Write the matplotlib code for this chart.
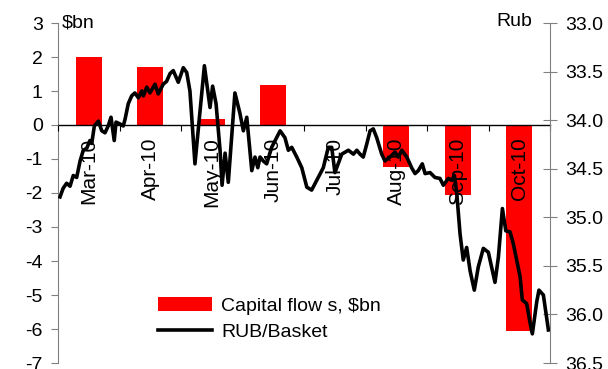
import numpy as np
import matplotlib
matplotlib.use("Agg")
import matplotlib.pyplot as plt
from matplotlib.patches import Patch
from matplotlib.lines import Line2D

plt.rcParams['font.family'] = ['Liberation Sans', 'DejaVu Sans']
plt.rcParams['axes.unicode_minus'] = False

# monthly capital flows, $bn
months = ["Mar-10", "Apr-10", "May-10", "Jun-10", "Jul-10", "Aug-10", "Sep-10", "Oct-10"]
flows = [2.0, 1.7, 0.18, 1.18, 0.0, -1.24, -2.06, -6.05]

# RUB/Basket, days since 1 Mar 2010
rub_day = [1.0, 2.6, 4.3, 6.0, 7.6, 9.3, 11.0, 12.6, 14.3, 15.9, 16.8, 18.1, 20.1, 21.8,
           23.4, 25.0, 26.4, 28.0, 28.9, 30.9, 32.5, 33.4, 35.0, 36.7, 38.3, 40.0, 41.7,
           42.5, 44.2, 45.8, 48.3, 49.9, 52.4, 54.1, 55.8, 57.4, 59.9, 62.4, 64.1, 65.7,
           68.2, 72.9, 75.7, 77.0, 78.7, 80.7, 81.7, 83.2, 84.8, 88.1, 90.6, 92.3, 94.0,
           96.5, 98.1, 99.5, 100.6, 102.2, 103.9, 106.4, 108.9, 110.6, 113.0, 114.7,
           116.4, 118.9, 121.4, 123.9, 126.3, 129.6, 132.1, 134.6, 136.3, 137.9, 141.3,
           144.6, 147.1, 148.8, 150.4, 152.0, 153.7, 155.4, 157.0, 158.7, 161.2, 162.8,
           165.3, 167.8, 169.5, 171.2, 173.7, 176.1, 177.8, 179.4, 181.4, 182.8, 185.3,
           187.7, 190.2, 191.9, 194.4, 196.1, 197.4, 198.6, 200.2, 201.8, 203.5, 205.2,
           207.3, 209.3, 211.8, 214.3, 217.6, 219.3, 221.3, 223.0, 225.1, 226.7, 228.4,
           230.1, 231.2, 233.4, 235.1, 236.2, 238.4, 239.5, 241.7, 244.2]
rub_value = [34.79, 34.70, 34.65, 34.68, 34.57, 34.59, 34.42, 34.31, 34.29, 34.21, 34.24,
             34.06, 34.01, 34.11, 34.13, 34.06, 33.97, 34.21, 34.02, 34.04, 34.06, 33.99,
             33.83, 33.75, 33.72, 33.77, 33.70, 33.75, 33.66, 33.72, 33.63, 33.73, 33.63,
             33.60, 33.52, 33.49, 33.61, 33.46, 33.51, 33.70, 34.45, 33.44, 33.87, 33.65,
             33.83, 34.31, 34.67, 34.34, 34.64, 33.72, 33.93, 34.11, 33.97, 34.52, 34.38,
             34.49, 34.38, 34.42, 34.45, 34.28, 34.18, 34.11, 34.18, 34.31, 34.28, 34.38,
             34.49, 34.69, 34.72, 34.59, 34.49, 34.28, 34.28, 34.54, 34.35, 34.31, 34.35,
             34.31, 34.35, 34.38, 34.25, 34.11, 34.09, 34.18, 34.35, 34.42, 34.38, 34.33,
             34.38, 34.31, 34.38, 34.49, 34.55, 34.52, 34.45, 34.55, 34.54, 34.59, 34.60,
             34.67, 34.60, 34.62, 34.57, 34.76, 35.17, 35.44, 35.31, 35.55, 35.75, 35.51,
             35.32, 35.36, 35.67, 35.41, 34.91, 35.14, 35.15, 35.27, 35.44, 35.61, 35.85,
             35.89, 36.09, 36.20, 35.87, 35.75, 35.80, 36.16]

left_ticks = np.arange(-7, 4)
right_ticks = np.arange(33.0, 36.51, 0.5)
total_days = 245.0
fs = 14

fig = plt.figure(figsize=(6.08, 3.69), dpi=100)
ax = fig.add_axes([58 / 608, 1 - 363 / 369, 492 / 608, 340 / 369])

x = np.arange(len(months))
ax.bar(x, flows, width=0.43, color="#ff0000", zorder=2)
ax.set_axisbelow(False)  # month names sit on top of the bars
ax.set_xlim(-0.5, len(months) - 0.5)
ax.set_ylim(-7, 3)
ax.set_yticks(left_ticks)
ax.set_yticklabels([str(v) for v in left_ticks])

for s in ["top", "right"]:
    ax.spines[s].set_visible(False)
ax.spines["left"].set_color("#808080")
ax.spines["bottom"].set_position(("data", 0))
ax.spines["bottom"].set_color("black")
ax.spines["bottom"].set_linewidth(1.0)

# boundary ticks on the zero line, month names at the centres
ax.set_xticks(np.arange(-0.5, len(months)), labels=[""] * (len(months) + 1))
ax.set_xticks(x, labels=months, minor=True)
ax.tick_params(axis="x", which="major", direction="out", length=4, color="black")
ax.tick_params(axis="x", which="minor", length=0, pad=9, labelsize=15, labelrotation=90)
ax.tick_params(axis="y", direction="out", length=5, color="#808080", labelsize=fs, pad=6)

ax2 = ax.twinx()
ax2.plot(np.array(rub_day) * len(months) / total_days - 0.5, rub_value,
         color="black", lw=2.6, zorder=3)
ax2.set_ylim(36.5, 33.0)
ax2.set_yticks(right_ticks)
ax2.set_yticklabels(["%.1f" % v for v in right_ticks])
for s in ["top", "left", "bottom"]:
    ax2.spines[s].set_visible(False)
ax2.spines["right"].set_color("#808080")
ax2.tick_params(axis="y", direction="inout", length=10, color="#808080", labelsize=fs, pad=6)

fig.text(62 / 608, 1 - 23 / 369, r"\$bn", fontsize=fs, va="center", ha="left")
fig.text(532 / 608, 1 - 22 / 369, "Rub", fontsize=fs, va="center", ha="right")

handles = [Patch(facecolor="#ff0000"), Line2D([0], [0], color="black", lw=2.6)]
fig.legend(handles, ["Capital flow s, $bn", "RUB/Basket"], loc="lower left",
           bbox_to_anchor=(158 / 608, 1 - 341 / 369), frameon=False, fontsize=fs,
           handlelength=2.8, handleheight=0.7, handletextpad=0.45, labelspacing=0.45,
           borderpad=0, borderaxespad=0)

fig.savefig("out.png", dpi=100)
